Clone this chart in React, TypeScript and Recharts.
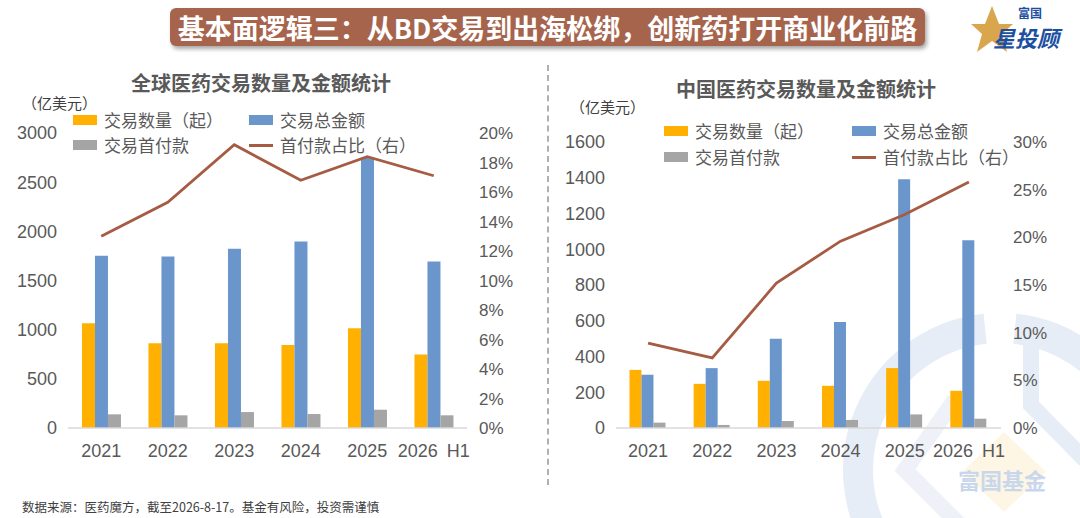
import React from 'react';
import { ComposedChart, Bar, Line, XAxis, YAxis } from 'recharts';

const categories = ['2021', '2022', '2023', '2024', '2025', '2026\u2002H1'];

const globalCount = [1065, 862, 862, 845, 1014, 747];
const globalTotal = [1751, 1744, 1822, 1896, 2752, 1694];
const globalUpfront = [139, 129, 162, 142, 186, 129];
const globalRatio = [0.13, 0.153, 0.192, 0.168, 0.184, 0.171];

const chinaCount = [325, 247, 264, 236, 335, 208];
const chinaTotal = [298, 335, 500, 593, 1392, 1050];
const chinaUpfront = [30, 17, 39, 45, 76, 52];
const chinaRatio = [0.089, 0.0735, 0.152, 0.196, 0.224, 0.258];

const globalAmtTicks = [0, 500, 1000, 1500, 2000, 2500, 3000];
const globalPctTicks = [0, 0.02, 0.04, 0.06, 0.08, 0.1, 0.12, 0.14, 0.16, 0.18, 0.2];
const chinaAmtTicks = [0, 200, 400, 600, 800, 1000, 1200, 1400, 1600];
const chinaPctTicks = [0, 0.05, 0.1, 0.15, 0.2, 0.25, 0.3];

const legendLabels = ['交易数量（起）', '交易总金额', '交易首付款', '首付款占比（右）'];
const mainTitle = '基本面逻辑三：从BD交易到出海松绑，创新药打开商业化前路';
const globalTitle = '全球医药交易数量及金额统计';
const chinaTitle = '中国医药交易数量及金额统计';
const unitLabel = '（亿美元）';
const footnote = '数据来源：医药魔方，截至2026-8-17。基金有风险，投资需谨慎';

const ORANGE = '#FFB000';
const BLUE = '#6A96CC';
const GRAY = '#A5A5A5';
const LINE = '#A65B43';
const TEXT = '#595959';
const CJK = "'Noto Sans CJK SC', 'Noto Sans', sans-serif";
const NUM = "'Liberation Sans Narrow', 'Liberation Sans', Arial, sans-serif";

function build(count: number[], total: number[], upfront: number[], ratio: number[]) {
  return categories.map((c, i) => ({
    name: c,
    count: count[i],
    total: total[i],
    upfront: upfront[i],
    ratio: ratio[i],
  }));
}

const pctFmt = (v: number) => `${Math.round(v * 100)}%`;

type ChartProps = {
  data: any[];
  amtTicks: number[];
  pctTicks: number[];
  margin: { top: number; right: number; bottom: number; left: number };
  leftWidth: number;
};

function DealChart({ data, amtTicks, pctTicks, margin, leftWidth }: ChartProps) {
  const tickStyle = { fill: TEXT, fontSize: 18, fontFamily: NUM };
  return (
    <ComposedChart width={540} height={518} data={data} margin={margin} barCategoryGap="21%" barGap={0}>
      <XAxis
        dataKey="name"
        xAxisId="x"
        interval={0}
        tickLine={false}
        tickSize={0}
        tickMargin={16}
        height={30}
        axisLine={{ stroke: '#D9D9D9', strokeWidth: 1.5 }}
        tick={tickStyle}
      />
      <YAxis
        yAxisId="amt"
        orientation="left"
        width={leftWidth}
        domain={[amtTicks[0], amtTicks[amtTicks.length - 1]]}
        ticks={amtTicks}
        interval={0}
        axisLine={false}
        tickLine={false}
        tickSize={0}
        tickMargin={11}
        tick={tickStyle}
      />
      <YAxis
        yAxisId="pct"
        orientation="right"
        width={50}
        domain={[pctTicks[0], pctTicks[pctTicks.length - 1]]}
        ticks={pctTicks}
        interval={0}
        axisLine={false}
        tickLine={false}
        tickSize={0}
        tickMargin={12}
        tickFormatter={pctFmt}
        tick={{ fill: TEXT, fontSize: 17, fontFamily: NUM }}
      />
      <Bar xAxisId="x" yAxisId="amt" dataKey="count" fill={ORANGE} isAnimationActive={false} />
      <Bar xAxisId="x" yAxisId="amt" dataKey="total" fill={BLUE} isAnimationActive={false} />
      <Bar xAxisId="x" yAxisId="amt" dataKey="upfront" fill={GRAY} isAnimationActive={false} />
      <Line
        xAxisId="x"
        yAxisId="pct"
        type="linear"
        dataKey="ratio"
        stroke={LINE}
        strokeWidth={2.8}
        dot={false}
        activeDot={false}
        isAnimationActive={false}
      />
    </ComposedChart>
  );
}

function LegendBlock({ left, top, col2, rowGap }: { left: number; top: number; col2: number; rowGap: number }) {
  const item = (x: number, y: number, kind: 'bar' | 'line', color: string, label: string) => (
    <div
      key={label}
      style={{
        position: 'absolute',
        left: x,
        top: y,
        display: 'flex',
        alignItems: 'center',
        height: 20,
        whiteSpace: 'nowrap',
      }}
    >
      {kind === 'bar' ? (
        <div style={{ width: 24, height: 10, background: color }} />
      ) : (
        <div style={{ width: 24, height: 3, background: color }} />
      )}
      <span style={{ marginLeft: 7, fontSize: 17, color: TEXT, fontFamily: CJK, lineHeight: '20px' }}>{label}</span>
    </div>
  );
  return (
    <div style={{ position: 'absolute', left, top, width: 10, height: 10 }}>
      {item(0, 0, 'bar', ORANGE, legendLabels[0])}
      {item(col2, 0, 'bar', BLUE, legendLabels[1])}
      {item(0, rowGap, 'bar', GRAY, legendLabels[2])}
      {item(col2, rowGap, 'line', LINE, legendLabels[3])}
    </div>
  );
}

function Watermark() {
  const cx = 1000;
  const cy = 470;
  const r = 142;
  const a1 = (-84 * Math.PI) / 180;
  const a2 = (-96 * Math.PI) / 180;
  const p1 = [cx + r * Math.cos(a1), cy + r * Math.sin(a1)];
  const p2 = [cx + r * Math.cos(a2), cy + r * Math.sin(a2)];
  return (
    <svg width={1080} height={518} style={{ position: 'absolute', left: 0, top: 0 }}>
      <path
        d={`M ${p1[0]} ${p1[1]} A ${r} ${r} 0 1 1 ${p2[0]} ${p2[1]}`}
        fill="none"
        stroke="#E7EDF6"
        strokeWidth={30}
      />
      <polyline points="1031,318 1031,405 1085,460" fill="none" stroke="#E7EDF6" strokeWidth={16} />
      <polyline points="955,400 905,470 960,525" fill="none" stroke="#EEF2F8" strokeWidth={16} />
      <polygon points="1004,432 1046,472 1004,512 962,472" fill="#FDF6E4" />
      <text
        x={1002}
        y={489}
        textAnchor="middle"
        fontSize={22}
        fontWeight={700}
        fill="#C9D7EC"
        fontFamily={CJK}
      >
        富国基金
      </text>
    </svg>
  );
}

function Logo() {
  return (
    <svg width={120} height={60} style={{ position: 'absolute', left: 960, top: 0 }}>
      <polygon
        points="32,6 39,24 53,24 42,34 47,52 32,41 17,52 22,34 11,24 25,24"
        fill="#D9A64E"
      />
      <text x={58} y={18} fontSize={12} fontWeight={700} fill="#1D4FA0" fontFamily={CJK}>
        富国
      </text>
      <text
        x={33}
        y={47}
        fontSize={22}
        fontWeight={700}
        fontStyle="italic"
        fill="#1D4FA0"
        fontFamily={CJK}
      >
        星投顾
      </text>
    </svg>
  );
}

export default function App() {
  const globalData = build(globalCount, globalTotal, globalUpfront, globalRatio);
  const chinaData = build(chinaCount, chinaTotal, chinaUpfront, chinaRatio);
  return (
    <div
      style={{
        position: 'absolute',
        left: 0,
        top: 0,
        width: 1080,
        height: 518,
        background: '#FFFFFF',
        overflow: 'hidden',
        fontFamily: CJK,
      }}
    >
      <Watermark />
      <div
        style={{
          position: 'absolute',
          left: 170,
          top: 8,
          width: 755,
          height: 38,
          background: '#A6644D',
          borderRadius: 6,
          boxShadow: '2px 3px 4px rgba(0,0,0,0.35)',
          color: '#FFFFFF',
          fontSize: 27,
          fontWeight: 700,
          fontFamily: CJK,
          display: 'flex',
          alignItems: 'center',
          justifyContent: 'center',
          whiteSpace: 'nowrap',
          letterSpacing: 0,
        }}
      >
        {mainTitle}
      </div>
      <Logo />
      <div
        style={{
          position: 'absolute',
          left: 547,
          top: 65,
          width: 0,
          height: 420,
          borderLeft: '2px dashed #B0B0B0',
        }}
      />
      <div style={{ position: 'absolute', left: 0, top: 0 }}>
        <DealChart
          data={globalData}
          amtTicks={globalAmtTicks}
          pctTicks={globalPctTicks}
          margin={{ top: 133, right: 23, bottom: 60, left: 8 }}
          leftWidth={60}
        />
      </div>
      <div style={{ position: 'absolute', left: 540, top: 0 }}>
        <DealChart
          data={chinaData}
          amtTicks={chinaAmtTicks}
          pctTicks={chinaPctTicks}
          margin={{ top: 142, right: 29, bottom: 60, left: 6 }}
          leftWidth={70}
        />
      </div>
      <div
        style={{
          position: 'absolute',
          left: 131,
          top: 69,
          width: 260,
          textAlign: 'center',
          fontSize: 20,
          fontWeight: 700,
          color: TEXT,
          whiteSpace: 'nowrap',
          lineHeight: '28px',
        }}
      >
        {globalTitle}
      </div>
      <div
        style={{
          position: 'absolute',
          left: 676,
          top: 75,
          width: 260,
          textAlign: 'center',
          fontSize: 20,
          fontWeight: 700,
          color: TEXT,
          whiteSpace: 'nowrap',
          lineHeight: '28px',
        }}
      >
        {chinaTitle}
      </div>
      <div style={{ position: 'absolute', left: 22, top: 93, fontSize: 15, color: '#404040', lineHeight: '20px' }}>
        {unitLabel}
      </div>
      <div style={{ position: 'absolute', left: 570, top: 97, fontSize: 15, color: '#404040', lineHeight: '20px' }}>
        {unitLabel}
      </div>
      <LegendBlock left={73} top={110} col2={176} rowGap={25} />
      <LegendBlock left={664} top={121} col2={188} rowGap={26} />
      <div
        style={{
          position: 'absolute',
          left: 22,
          top: 499,
          fontSize: 12.5,
          color: '#404040',
          lineHeight: '16px',
          whiteSpace: 'nowrap',
        }}
      >
        {footnote}
      </div>
    </div>
  );
}
